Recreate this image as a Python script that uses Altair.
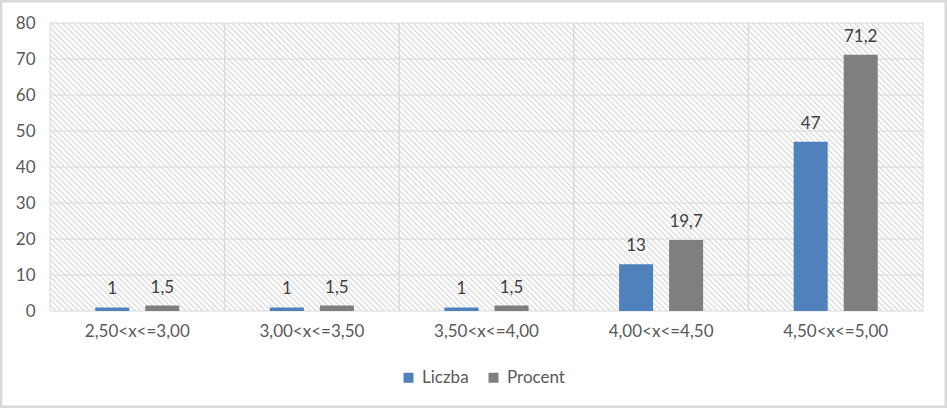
import altair as alt
import pandas as pd
from urllib.parse import quote

# ---- data ----
categories = ["2,50<x<=3,00", "3,00<x<=3,50", "3,50<x<=4,00", "4,00<x<=4,50", "4,50<x<=5,00"]
series = ["Liczba", "Procent"]
liczba = [1, 1, 1, 13, 47]
procent = [1.5, 1.5, 1.5, 19.7, 71.2]
y_ticks = [0, 10, 20, 30, 40, 50, 60, 70, 80]
colors = ["#4F81BD", "#7F7F7F"]

rows = []
for c, a, b in zip(categories, liczba, procent):
    rows.append({"category": c, "series": "Liczba", "value": a, "label": f"{a:g}".replace(".", ",")})
    rows.append({"category": c, "series": "Procent", "value": b, "label": f"{b:g}".replace(".", ",")})
df = pd.DataFrame(rows)
cat_df = pd.DataFrame({"category": categories})
tick_df = pd.DataFrame({"t": y_ticks})

# ---- layout / style ----
W, H = 873, 288
PL, PT, PR, PB = 50, 23, 24, 97
FONT = "Lato"
FS = 17
GRID = "#D9D9D9"

hatch_svg = (
    f"<svg xmlns='http://www.w3.org/2000/svg' width='{W}' height='{H}'>"
    "<defs><pattern id='p' width='4' height='4' patternUnits='userSpaceOnUse' patternTransform='rotate(-45)'>"
    "<rect x='0' y='0' width='1.2' height='4' fill='#D6D6D6'/></pattern></defs>"
    "<rect width='100%' height='100%' fill='white'/>"
    "<rect width='100%' height='100%' fill='url(#p)'/></svg>"
)
hatch_url = "data:image/svg+xml," + quote(hatch_svg)

xscale = alt.Scale(domain=categories, paddingInner=0, paddingOuter=0)
yscale = alt.Scale(domain=[0, 80], nice=False)
xaxis = alt.Axis(title=None, labelAngle=0, ticks=False, domain=False, grid=False,
                 labelFont=FONT, labelFontSize=FS, labelColor="#595959", labelPadding=12)
yaxis = alt.Axis(title=None, values=y_ticks, ticks=False, domain=False, grid=False,
                 labelFont=FONT, labelFontSize=FS, labelColor="#595959", labelPadding=15)

X = alt.X("category:N", sort=categories, scale=xscale, axis=xaxis)
Y = alt.Y("value:Q", scale=yscale, axis=yaxis)
XO = alt.XOffset("series:N", sort=series,
                 scale=alt.Scale(domain=series, paddingInner=0.32, paddingOuter=0.905))

background = alt.Chart(alt.Data(values=[{"a": 1}])).mark_image(
    width=W, height=H, aspect=False, align="left", baseline="top"
).encode(x=alt.value(0), y=alt.value(0), url=alt.value(hatch_url))

hgrid = alt.Chart(tick_df).mark_rule(color=GRID, strokeWidth=1).encode(
    y=alt.Y("t:Q", scale=yscale, axis=yaxis)
)
vgrid0 = alt.Chart(cat_df).mark_rule(color=GRID, strokeWidth=1).encode(
    x=alt.X("category:N", sort=categories, scale=xscale, axis=xaxis, bandPosition=0)
)
vgrid1 = alt.Chart(cat_df).mark_rule(color=GRID, strokeWidth=1).encode(
    x=alt.X("category:N", sort=categories, scale=xscale, axis=xaxis, bandPosition=1)
)

bars = alt.Chart(df).mark_bar().encode(
    x=X,
    xOffset=XO,
    y=Y,
    color=alt.Color("series:N", sort=series,
                    scale=alt.Scale(domain=series, range=colors),
                    legend=alt.Legend(orient="none", legendX=350, legendY=346, direction="horizontal",
                                      title=None, symbolType="square", symbolSize=100,
                                      symbolStrokeWidth=0, labelFont=FONT, labelFontSize=FS,
                                      labelColor="#595959", labelOffset=5, columnPadding=16)),
)

labels = alt.Chart(df).mark_text(dy=-13, baseline="alphabetic", font=FONT, fontSize=FS,
                                 color="#404040").encode(
    x=X,
    xOffset=XO,
    y=Y,
    text="label:N",
)

frame = alt.Chart(alt.Data(values=[{"a": 1}])).mark_rect(
    fillOpacity=0, stroke=GRID, strokeWidth=2.5
).encode(
    x=alt.value(-PL + 1.25), x2=alt.value(W + PR - 1.25),
    y=alt.value(-PT + 1.25), y2=alt.value(H + PB - 1.25),
)

chart = alt.layer(background, hgrid, vgrid0, vgrid1, bars, labels, frame).properties(
    width=W, height=H,
    autosize=alt.AutoSizeParams(type="none"),
    padding={"left": PL, "top": PT, "right": PR, "bottom": PB},
    background="white",
).configure_view(stroke=None)

chart.save("out.html", embed_options={"renderer": "svg", "actions": False})
